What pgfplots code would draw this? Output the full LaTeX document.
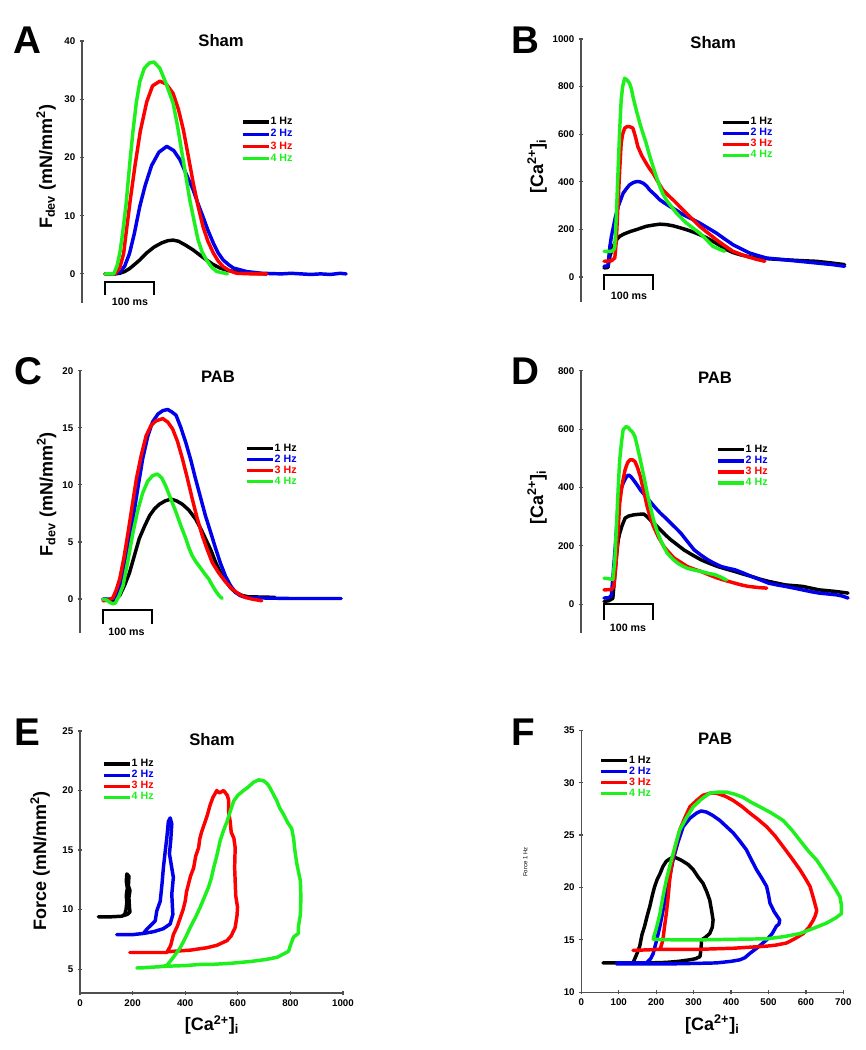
\documentclass[border=0pt]{standalone}
\usepackage{fontspec}
\setmainfont{Liberation Sans}
\usepackage{pgfplots}
\pgfplotsset{compat=1.18}

\definecolor{cblue}{RGB}{0,0,235}
\definecolor{cred}{RGB}{255,0,0}
\definecolor{cgreen}{RGB}{30,240,30}
\definecolor{axgray}{RGB}{80,80,80}

\tikzset{
  ttl/.style={font=\bfseries\fontsize{12.5}{14}\selectfont, anchor=center},
  lbl/.style={font=\bfseries\fontsize{13.5}{15}\selectfont, anchor=center},
}
\pgfplotsset{
  panel/.style={
    scale only axis, clip=false,
    tick align=outside, major tick length=3pt,
    major tick style={line width=0.9pt, axgray},
    tick label style={font=\bfseries\fontsize{7.3}{8}\selectfont, black},
    /pgf/number format/assume math mode=true,
    /pgf/number format/1000 sep={},
    legend style={draw=none, fill=none, inner sep=0pt, outer sep=0pt,
      row sep=0pt, column sep=0pt, anchor=north west,
      font=\bfseries\fontsize{8}{9}\selectfont,
      nodes={inner sep=0.3pt, text height=5.8pt, text depth=1.9pt}},
    legend cell align=left,
    legend image code/.code={\draw[##1, line width=2.4pt, line cap=butt] (0pt,0pt) -- (19.5pt,0pt);},
  },
  noarrow/.style={
    axis line style={-, line width=0.9pt, axgray},
    x axis line style={-}, y axis line style={-},
    every outer x axis line/.append style={-},
    every outer y axis line/.append style={-},
    every inner x axis line/.append style={-},
    every inner y axis line/.append style={-},
  },
  trace/.style={line width=2.6pt, line join=round, line cap=round},
  sbar/.style={black, line width=1.5pt, line join=miter, forget plot},
}

\begin{document}
\begin{tikzpicture}
\path[use as bounding box, fill=white] (0pt,0pt) rectangle (649.5pt,787.5pt);

% panel letters (positions in pt: 1 px = 0.75 pt)
\begin{scope}[every node/.style={font=\bfseries\fontsize{29}{30}\selectfont}]
\node at (20.25pt,757.5pt) {A};
\node at (393.75pt,757.5pt) {B};
\node at (21pt,509.25pt) {C};
\node at (393.75pt,509.25pt) {D};
\node at (20.25pt,238.5pt) {E};
\node at (392.25pt,238.5pt) {F};
\end{scope}

%================ A
\begin{axis}[panel, at={(61.5pt,560.25pt)}, anchor=south west,
  width=201pt, height=196.5pt,
  axis x line=none, axis y line=left, xtick=\empty,
  xmin=-47, xmax=500, ymin=-5, ymax=40, ytick={0,10,20,30,40},
  title={Sham}, every axis title/.style={ttl, at={(axis description cs:0.519,1.0)}},
  ylabel={F\textsubscript{dev} (mN/mm\textsuperscript{2})},
  every axis y label/.style={lbl, at={(axis description cs:-0.134,0.52)}, rotate=90},
  legend style={at={(0.593,0.714)}, nodes={text height=6.4pt, text depth=2.1pt}},
  noarrow]
\addplot[trace, black] coordinates {(0,0)(20,0)(30,0.1)(40,0.4)(50,0.9)(60,1.6)(71,2.4)(85,3.6)(100,4.6)(115,5.3)(128,5.7)(139,5.8)(150,5.6)(165,4.9)(180,4.1)(194,3.2)(207,2.4)(221,1.6)(235,1.0)(250,0.6)(270,0.3)(300,0.1)(330,0)};
\addplot[trace, cblue] coordinates {(0,0)(20,0)(30,0.3)(40,1.3)(50,3.5)(60,7)(71,11.6)(82,15.2)(95,18.6)(110,20.9)(126,21.9)(140,21.2)(153,19.6)(166,17.1)(180,14.4)(190,12)(200,9.8)(210,7.5)(221,5.3)(231,3.6)(241,2.4)(252,1.6)(262,1.0)(289,0.4)(320,0.1)(360,0)(380,0.1)(400,0)(420,-0.1)(440,0)(460,-0.1)(480,0.1)(492,0)};
\addplot[trace, cred] coordinates {(0,0)(20,0)(30,1)(38,3.5)(43,7)(52,13)(61,18.5)(72,24.5)(85,29.5)(97,32.3)(112,33.1)(125,32.6)(139,31.0)(150,28.2)(160,24.7)(170,20.2)(180,15.6)(190,11.6)(200,8.1)(210,5.6)(221,3.6)(231,2.2)(241,1.25)(255,0.5)(269,0.1)(300,0)(330,0)};
\addplot[trace, cgreen] coordinates {(0,0)(18,0)(25,1.5)(31,4)(36,7)(43,12)(50,18.5)(57,24.5)(64,29.5)(71,33)(80,35.3)(90,36.2)(100,36.4)(112,35.3)(125,32.6)(139,29.3)(148,25.4)(156,21.3)(165,16.8)(173,12.7)(182,9)(190,5.8)(198,3.8)(207,2.4)(218,1.1)(228,0.4)(245,0.1)(250,0)};
\addplot[sbar] coordinates {(0,-3.6)(0,-1.37)(100,-1.37)(100,-3.6)};
\node[font=\bfseries\fontsize{8}{9}\selectfont] at (axis cs:51,-4.8) {100 ms};
\addlegendentry{\color{black}1 Hz}
\addlegendentry{\color{cblue}2 Hz}
\addlegendentry{\color{cred}3 Hz}
\addlegendentry{\color{cgreen}4 Hz}
\end{axis}

%================ B
\begin{axis}[panel, at={(435.75pt,561pt)}, anchor=south west,
  width=201pt, height=197.25pt,
  axis x line=none, axis y line=left, xtick=\empty,
  xmin=-47, xmax=500, ymin=-105, ymax=1000, ytick={0,200,400,600,800,1000},
  title={Sham}, every axis title/.style={ttl, at={(axis description cs:0.493,0.985)}},
  ylabel={[Ca\textsuperscript{2+}]\textsubscript{i}},
  every axis y label/.style={lbl, at={(axis description cs:-0.164,0.517)}, rotate=90},
  legend style={at={(0.522,0.705)}},
  noarrow]
\addplot[trace, black] coordinates {(0,38)(8,40)(12,87)(17,120)(22,143)(27,160)(32,171)(40,180)(46,185)(55,192)(66,199)(76,206)(86,213)(100,218)(114,222)(128,220)(141,215)(155,207)(168,199)(182,189)(195,178)(209,165)(222,150)(236,133)(250,115)(263,103)(277,94)(294,86)(311,80)(340,76)(365,73)(400,69)(433,66)(460,60)(491,52)};
\addplot[trace, cblue] coordinates {(0,45)(8,47)(12,129)(15,170)(18,199)(23,250)(29,297)(34,325)(39,352)(46,372)(52,387)(59,396)(66,401)(73,400)(80,394)(87,382)(93,366)(104,345)(114,324)(124,310)(134,297)(148,280)(161,262)(178,245)(195,227)(212,206)(229,185)(246,160)(263,136)(280,118)(297,101)(314,90)(331,80)(350,76)(365,73)(399,66)(433,59)(467,52)(491,45)};
\addplot[trace, cred] coordinates {(0,66)(15,68)(22,80)(25,150)(29,324)(32,450)(35,562)(38,600)(42,625)(47,632)(52,632)(59,625)(64,590)(69,548)(77,510)(86,478)(93,455)(100,436)(110,400)(120,366)(130,345)(141,324)(155,295)(168,268)(182,240)(195,213)(212,185)(229,157)(246,132)(263,108)(277,97)(290,87)(310,75)(328,66)};
\addplot[trace, cgreen] coordinates {(0,108)(15,108)(20,115)(22,129)(25,250)(29,464)(32,620)(35,744)(38,800)(42,835)(47,828)(52,814)(56,790)(59,758)(66,700)(73,646)(80,600)(86,562)(93,510)(100,464)(107,420)(114,380)(120,350)(127,324)(138,295)(148,268)(158,247)(168,227)(182,205)(195,185)(209,157)(222,129)(234,118)(246,108)};
\addplot[sbar] coordinates {(0,-55)(0,8)(100,8)(100,-55)};
\node[font=\bfseries\fontsize{8}{9}\selectfont] at (axis cs:51,-80) {100 ms};
\addlegendentry{\color{black}1 Hz}
\addlegendentry{\color{cblue}2 Hz}
\addlegendentry{\color{cred}3 Hz}
\addlegendentry{\color{cgreen}4 Hz}
\end{axis}

%================ C
\begin{axis}[panel, at={(60pt,312.5pt)}, anchor=south west,
  width=201pt, height=197pt,
  axis x line=none, axis y line=left, xtick=\empty,
  xmin=-47, xmax=500, ymin=-3, ymax=20, ytick={0,5,10,15,20},
  title={PAB}, every axis title/.style={ttl, at={(axis description cs:0.515,0.977)}},
  ylabel={F\textsubscript{dev} (mN/mm\textsuperscript{2})},
  every axis y label/.style={lbl, at={(axis description cs:-0.125,0.53)}, rotate=90},
  legend style={at={(0.616,0.724)}},
  noarrow]
\addplot[trace, black] coordinates {(0,0)(20,-0.15)(34,0.3)(44,1.2)(54,2.3)(64,3.8)(74,5.3)(85,6.4)(95,7.3)(105,7.9)(115,8.3)(127,8.6)(139,8.75)(150,8.6)(162,8.3)(175,7.8)(189,7.0)(199,6.2)(209,5.3)(220,4.3)(230,3.2)(240,2.3)(250,1.6)(260,1.0)(270,0.6)(285,0.3)(297,0.2)(351,0.15)};
\addplot[trace, cblue] coordinates {(0,0)(15,0)(24,0.05)(32,0.8)(41,2.3)(51,4.6)(61,7.0)(71,9.7)(81,12.3)(91,14.2)(101,15.5)(112,16.2)(122,16.5)(132,16.6)(140,16.4)(149,16.1)(159,15.0)(169,13.7)(179,12.2)(189,10.5)(199,8.9)(209,7.3)(220,5.8)(230,4.4)(240,3.1)(250,2.0)(260,1.2)(270,0.6)(280,0.3)(291,0.15)(320,0.1)(380,0.05)(420,0.05)(486,0.05)};
\addplot[trace, cred] coordinates {(0,-0.15)(10,-0.1)(20,0.1)(27,0.8)(34,1.75)(43,3.7)(51,5.8)(60,8.3)(68,10.5)(78,12.6)(88,14.3)(98,15.2)(108,15.6)(122,15.8)(132,15.5)(142,14.9)(152,13.8)(162,12.3)(172,10.6)(182,8.8)(192,7.1)(203,5.5)(213,4.3)(223,3.2)(236,2.3)(250,1.5)(263,0.9)(277,0.45)(290,0.15)(304,0)(324,-0.15)};
\addplot[trace, cgreen] coordinates {(0,0)(8,-0.1)(14,-0.3)(20,-0.4)(25,-0.35)(33,0.3)(41,1.2)(51,3.4)(61,5.8)(71,7.8)(81,9.3)(91,10.3)(101,10.8)(111,10.95)(120,10.6)(128,9.9)(138,8.8)(149,7.6)(159,6.4)(169,5.3)(176,4.4)(182,3.8)(189,3.3)(196,2.9)(206,2.3)(216,1.75)(223,1.2)(230,0.7)(237,0.3)(243,0.05)};
\addplot[sbar] coordinates {(0,-2.19)(0,-0.96)(100,-0.96)(100,-2.19)};
\node[font=\bfseries\fontsize{8}{9}\selectfont] at (axis cs:48,-2.9) {100 ms};
\addlegendentry{\color{black}1 Hz}
\addlegendentry{\color{cblue}2 Hz}
\addlegendentry{\color{cred}3 Hz}
\addlegendentry{\color{cgreen}4 Hz}
\end{axis}

%================ D
\begin{axis}[panel, at={(435.75pt,312.5pt)}, anchor=south west,
  width=201pt, height=196.9pt,
  axis x line=none, axis y line=left, xtick=\empty,
  xmin=-47, xmax=500, ymin=-100, ymax=800, ytick={0,200,400,600,800},
  title={PAB}, every axis title/.style={ttl, at={(axis description cs:0.5,0.973)}},
  ylabel={[Ca\textsuperscript{2+}]\textsubscript{i}},
  every axis y label/.style={lbl, at={(axis description cs:-0.164,0.516)}, rotate=90},
  legend style={at={(0.504,0.72)}},
  noarrow]
\addplot[trace, black] coordinates {(0,9)(10,12)(18,20)(22,100)(26,175)(29,220)(32,243)(37,270)(43,295)(50,302)(60,306)(70,308)(81,309)(88,300)(94,289)(105,272)(115,255)(125,238)(136,221)(150,203)(163,186)(180,169)(198,152)(215,140)(232,129)(250,120)(267,112)(284,103)(301,95)(318,86)(336,78)(353,72)(370,66)(405,61)(439,49)(470,44)(498,38)};
\addplot[trace, cblue] coordinates {(0,21)(10,22)(15,30)(18,90)(22,175)(26,270)(29,346)(34,390)(39,415)(45,435)(50,443)(55,437)(60,426)(67,410)(74,392)(84,372)(94,352)(104,332)(115,312)(126,295)(136,278)(147,260)(157,243)(170,215)(184,186)(198,168)(212,152)(225,140)(239,129)(253,123)(267,118)(284,107)(301,95)(318,84)(336,72)(353,66)(370,61)(388,55)(405,49)(422,43)(439,38)(457,35)(474,32)(486,28)(498,21)};
\addplot[trace, cred] coordinates {(0,49)(15,50)(20,60)(23,110)(26,175)(29,260)(32,346)(37,410)(43,461)(48,485)(53,495)(58,495)(63,489)(68,470)(74,438)(80,395)(88,335)(94,300)(101,266)(111,230)(122,198)(132,178)(143,158)(157,143)(170,129)(184,120)(198,112)(215,100)(232,89)(250,80)(267,72)(280,66)(294,61)(315,57)(332,55)};
\addplot[trace, cgreen] coordinates {(0,89)(10,87)(18,85)(22,150)(26,289)(29,400)(32,495)(36,560)(39,598)(45,609)(50,605)(53,598)(58,590)(63,575)(68,540)(74,495)(81,440)(88,381)(95,330)(101,289)(108,252)(115,221)(122,197)(129,175)(140,155)(150,141)(160,131)(170,123)(184,117)(198,112)(212,106)(226,101)(238,93)(250,83)};
\addplot[sbar] coordinates {(0,-54)(0,0)(100,0)(100,-54)};
\node[font=\bfseries\fontsize{8}{9}\selectfont] at (axis cs:49,-81) {100 ms};
\addlegendentry{\color{black}1 Hz}
\addlegendentry{\color{cblue}2 Hz}
\addlegendentry{\color{cred}3 Hz}
\addlegendentry{\color{cgreen}4 Hz}
\end{axis}

%================ E
\begin{axis}[panel, at={(60pt,42.75pt)}, anchor=south west,
  width=197.25pt, height=196.5pt,
  axis lines=left,
  xmin=0, xmax=1000, ymin=3, ymax=25,
  xtick={0,200,400,600,800,1000}, ytick={5,10,15,20,25},
  title={Sham}, every axis title/.style={ttl, at={(axis description cs:0.502,0.969)}},
  ylabel={Force (mN/mm\textsuperscript{2})},
  every axis y label/.style={lbl, at={(axis description cs:-0.152,0.504)}, rotate=90},
  xlabel={[Ca\textsuperscript{2+}]\textsubscript{i}},
  every axis x label/.style={lbl, at={(axis description cs:0.502,-0.122)}},
  legend style={at={(0.084,0.895)}},
  noarrow]
\addplot[trace, black] coordinates {(70,9.4)(120,9.4)(160,9.45)(170,9.6)(175,10)(178,10.6)(176,11.2)(180,11.8)(176,12.4)(178,13)(186,12.8)(184,12)(190,11.6)(186,11)(188,10.2)(190,9.8)(180,9.6)(165,9.5)};
\addplot[trace, cblue] coordinates {(140,7.9)(200,7.9)(241,8.0)(254,8.36)(270,8.7)(286,9.06)(292,9.9)(305,10.7)(312,12.2)(317,13.5)(324,14.9)(330,16.0)(336,17.4)(343,17.7)(349,17.2)(345,15.8)(340,14.7)(349,13.5)(355,12.7)(349,11.3)(353,9.6)(343,8.8)(317,8.4)(280,8.15)(241,8.0)};
\addplot[trace, cred] coordinates {(190,6.4)(250,6.4)(330,6.4)(345,7.0)(355,7.9)(370,8.6)(381,9.3)(392,10.0)(400,10.7)(405,11.5)(412,12.1)(420,12.8)(432,13.5)(440,14.5)(451,15.2)(455,15.9)(462,16.5)(476,17.4)(485,18.0)(495,18.8)(505,19.4)(520,20.0)(530,19.8)(546,20.0)(560,19.6)(565,19.2)(565,18.2)(571,17.4)(575,16.5)(585,16.0)(590,15.2)(588,13.5)(590,12.4)(592,11.2)(599,10.2)(597,9.5)(590,8.5)(575,7.8)(559,7.4)(520,7.0)(482,6.8)(420,6.6)(355,6.5)(330,6.45)};
\addplot[trace, cgreen] coordinates {(216,5.1)(300,5.2)(330,5.3)(355,6.0)(381,6.8)(400,7.6)(419,8.5)(440,9.4)(457,10.2)(472,11.0)(489,11.9)(500,12.7)(508,13.5)(520,14.5)(533,15.8)(545,16.6)(559,17.4)(572,18.3)(584,19.1)(600,19.6)(622,20.0)(640,20.3)(660,20.7)(680,20.9)(700,20.8)(715,20.5)(723,20.2)(735,19.7)(749,19.1)(760,18.5)(774,18.0)(790,17.3)(805,16.8)(812,16.0)(818,14.8)(825,13.8)(838,12.4)(840,11.0)(838,9.6)(830,8.5)(830,8.0)(812,7.7)(800,7.0)(793,6.5)(750,6.0)(703,5.8)(650,5.65)(576,5.5)(500,5.4)(457,5.4)(400,5.3)(330,5.25)(229,5.1)};
\addlegendentry{\color{black}1 Hz}
\addlegendentry{\color{cblue}2 Hz}
\addlegendentry{\color{cred}3 Hz}
\addlegendentry{\color{cgreen}4 Hz}
\end{axis}

%================ F
\begin{axis}[panel, at={(436pt,43.3pt)}, anchor=south west,
  width=196.5pt, height=196.5pt,
  axis lines=left,
  xmin=0, xmax=700, ymin=10, ymax=35,
  xtick={0,100,...,700}, ytick={10,15,20,25,30,35},
  title={PAB}, every axis title/.style={ttl, at={(axis description cs:0.511,0.969)}},
  ylabel={Force 1 Hz},
  every axis y label/.style={at={(axis description cs:-0.214,0.497)}, rotate=90, anchor=center, font=\fontsize{4.5}{5}\selectfont},
  xlabel={[Ca\textsuperscript{2+}]\textsubscript{i}},
  every axis x label/.style={lbl, at={(axis description cs:0.5,-0.122)}},
  legend style={at={(0.069,0.906)}},
  noarrow]
\addplot[trace, black] coordinates {(58,12.8)(100,12.8)(138,12.8)(150,13.8)(156,14.4)(162,15.5)(169,16.3)(176,17.3)(183,18.2)(190,19.3)(196,20.1)(203,20.8)(210,21.3)(218,22.0)(227,22.5)(235,22.7)(245,22.9)(255,22.8)(267,22.6)(285,22.2)(299,21.7)(312,21.0)(325,20.4)(335,19.6)(343,18.8)(348,17.8)(352,16.9)(350,16.2)(343,15.6)(330,15.2)(321,15.0)(320,14.2)(317,13.4)(305,13.2)(290,13.1)(260,12.95)(227,12.85)(180,12.8)(138,12.8)};
\addplot[trace, cblue] coordinates {(94,12.8)(140,12.8)(174,12.8)(185,13.2)(192,13.7)(200,14.8)(210,16.3)(218,17.8)(227,19.4)(236,21.0)(245,22.6)(258,24.3)(272,25.8)(290,26.6)(308,27.1)(320,27.3)(334,27.2)(350,26.9)(370,26.4)(388,25.8)(406,25.2)(424,24.4)(441,23.6)(455,22.6)(468,21.7)(482,20.9)(495,20.1)(500,19.3)(504,18.5)(515,17.7)(530,16.9)(528,16.5)(521,16.3)(510,15.6)(495,15.0)(472,14.3)(450,13.7)(437,13.3)(424,13.1)(400,12.95)(361,12.8)(300,12.75)(227,12.7)(150,12.7)(94,12.7)};
\addplot[trace, cred] coordinates {(138,14.0)(180,14.05)(210,14.1)(214,14.5)(218,15.0)(222,16.2)(227,17.5)(232,19.1)(236,20.7)(240,21.8)(245,22.9)(254,24.2)(263,25.5)(276,26.6)(290,27.7)(308,28.3)(325,28.8)(345,29.0)(361,29.0)(385,28.7)(406,28.3)(430,27.7)(450,27.1)(472,26.5)(495,25.8)(518,24.9)(539,23.9)(562,22.8)(584,21.7)(598,20.9)(611,20.1)(620,19.0)(629,17.8)(625,17.3)(620,16.9)(608,16.2)(593,15.6)(570,15.1)(548,14.7)(520,14.5)(495,14.4)(450,14.3)(406,14.2)(360,14.15)(317,14.1)(260,14.1)(210,14.1)};
\addplot[trace, cgreen] coordinates {(192,15.1)(198,15.8)(204,16.6)(210,17.5)(218,19.1)(227,20.7)(236,22.0)(245,23.2)(254,24.4)(263,25.5)(280,26.6)(299,27.7)(320,28.4)(343,29.0)(365,29.1)(388,29.1)(410,28.9)(432,28.6)(455,28.1)(477,27.7)(508,27.1)(539,26.4)(562,25.5)(584,24.5)(606,23.5)(629,22.6)(646,21.7)(664,20.7)(678,19.9)(691,19.1)(695,18.3)(695,17.5)(680,17.1)(655,16.6)(620,16.1)(584,15.6)(540,15.3)(495,15.1)(400,15.05)(317,15.0)(250,15.0)(192,15.05)};
\addlegendentry{\color{black}1 Hz}
\addlegendentry{\color{cblue}2 Hz}
\addlegendentry{\color{cred}3 Hz}
\addlegendentry{\color{cgreen}4 Hz}
\end{axis}
\end{tikzpicture}
\end{document}
